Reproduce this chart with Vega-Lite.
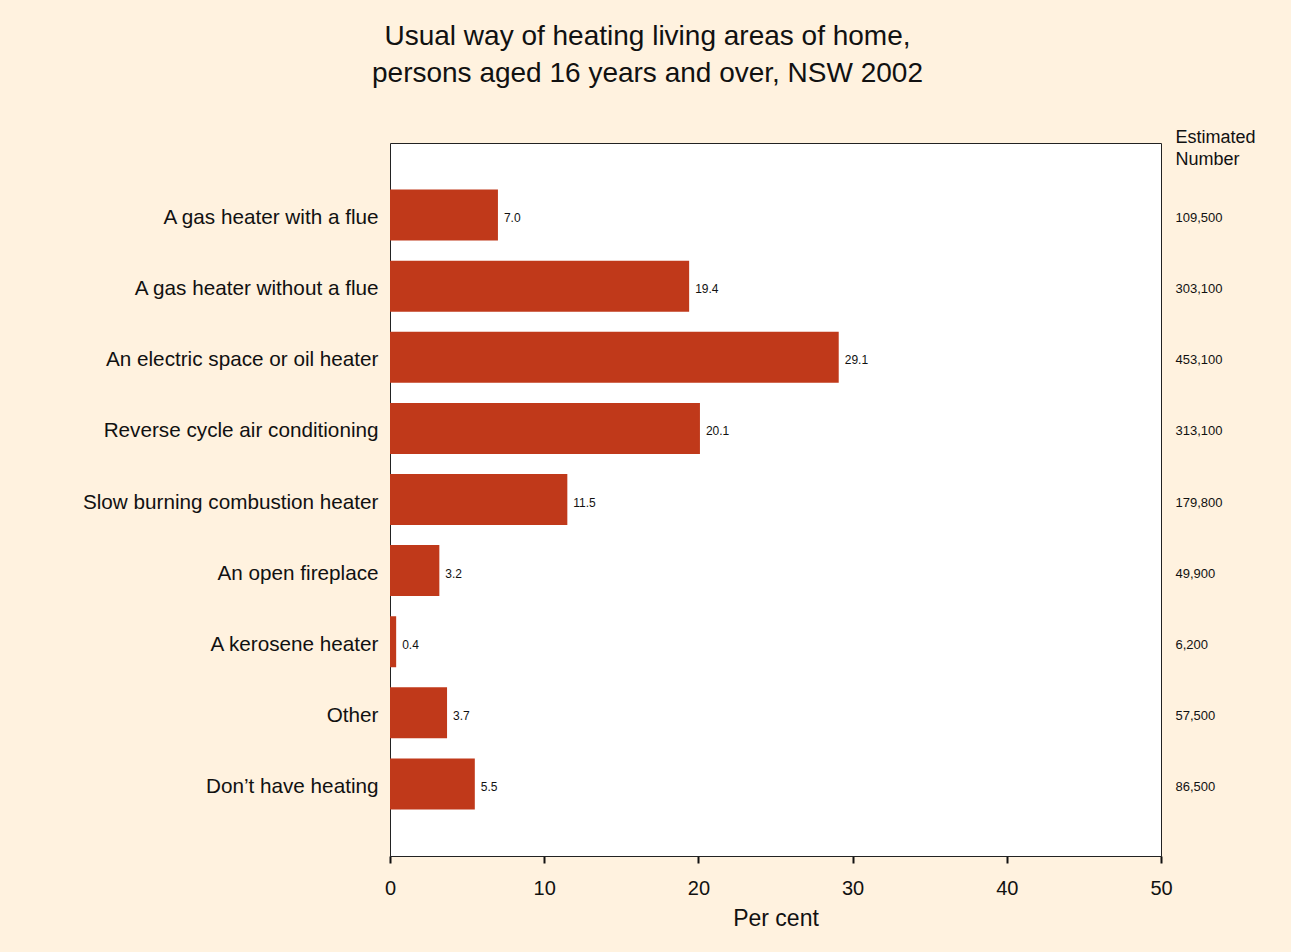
{
  "$schema": "https://vega.github.io/schema/vega-lite/v6.json",
  "autosize": "none",
  "width": 771,
  "height": 713,
  "padding": {"left": 390, "top": 143, "right": 130, "bottom": 96},
  "background": "#FFF2DF",
  "title": {
    "text": ["Usual way of heating living areas of home,", "persons aged 16 years and over, NSW 2002"],
    "anchor": "middle",
    "frame": "group",
    "dx": -128,
    "fontSize": 28,
    "fontWeight": "normal",
    "font": "Liberation Sans",
    "color": "#111111",
    "lineHeight": 37,
    "offset": 40
  },
  "config": {
    "font": "Liberation Sans",
    "view": {"fill": "white", "stroke": "#222222", "strokeWidth": 1},
    "axis": {"labelColor": "#111111", "titleColor": "#111111", "labelFont": "Liberation Sans", "titleFont": "Liberation Sans"}
  },
  "data": {
    "values": [
      {"category": "A gas heater with a flue", "pct": 7.0, "estimate": "109,500"},
      {"category": "A gas heater without a flue", "pct": 19.4, "estimate": "303,100"},
      {"category": "An electric space or oil heater", "pct": 29.1, "estimate": "453,100"},
      {"category": "Reverse cycle air conditioning", "pct": 20.1, "estimate": "313,100"},
      {"category": "Slow burning combustion heater", "pct": 11.5, "estimate": "179,800"},
      {"category": "An open fireplace", "pct": 3.2, "estimate": "49,900"},
      {"category": "A kerosene heater", "pct": 0.4, "estimate": "6,200"},
      {"category": "Other", "pct": 3.7, "estimate": "57,500"},
      {"category": "Don’t have heating", "pct": 5.5, "estimate": "86,500"}
    ]
  },
  "encoding": {
    "x": {
      "field": "pct",
      "type": "quantitative",
      "scale": {"domain": [0, 50], "nice": false},
      "axis": {
        "title": "Per cent",
        "values": [0, 10, 20, 30, 40, 50],
        "grid": false,
        "labelFlush": false,
        "domainColor": "#222222",
        "tickColor": "#111111",
        "tickWidth": 2,
        "tickSize": 7,
        "labelFontSize": 20,
        "labelPadding": 15,
        "titleFontSize": 23,
        "titleFontWeight": "normal",
        "titlePadding": 9
      }
    }
  },
  "layer": [
    {
      "mark": {"type": "bar", "color": "#C0391A"},
      "encoding": {
        "y": {
          "field": "category",
          "type": "nominal",
          "sort": null,
          "scale": {"type": "band", "paddingInner": 0.283, "paddingOuter": 0.654},
          "axis": {
            "title": null,
            "orient": "left",
            "domain": false,
            "ticks": false,
            "labelFontSize": 20.7,
            "labelPadding": 12,
            "labelOffset": 3,
            "labelLimit": 400
          }
        }
      }
    },
    {
      "mark": {"type": "text", "align": "left", "baseline": "middle", "dx": 6, "dy": 3, "fontSize": 12, "color": "#111111"},
      "encoding": {
        "y": {
          "field": "estimate",
          "type": "nominal",
          "sort": null,
          "bandPosition": 0.5,
          "scale": {"type": "band", "paddingInner": 0.283, "paddingOuter": 0.654},
          "axis": {
            "orient": "right",
            "title": ["Estimated", "Number"],
            "titleAngle": 0,
            "titleAlign": "left",
            "titleBaseline": "alphabetic",
            "titleX": 14,
            "titleY": -1,
            "titleFontSize": 18,
            "titleFontWeight": "normal",
            "titleLineHeight": 22,
            "domain": false,
            "ticks": false,
            "labelFontSize": 13,
            "labelPadding": 14,
            "labelOffset": 3,
            "labelAlign": "left"
          }
        },
        "text": {"field": "pct", "type": "quantitative", "format": ".1f"}
      }
    }
  ],
  "resolve": {"scale": {"y": "independent"}, "axis": {"y": "independent"}}
}
